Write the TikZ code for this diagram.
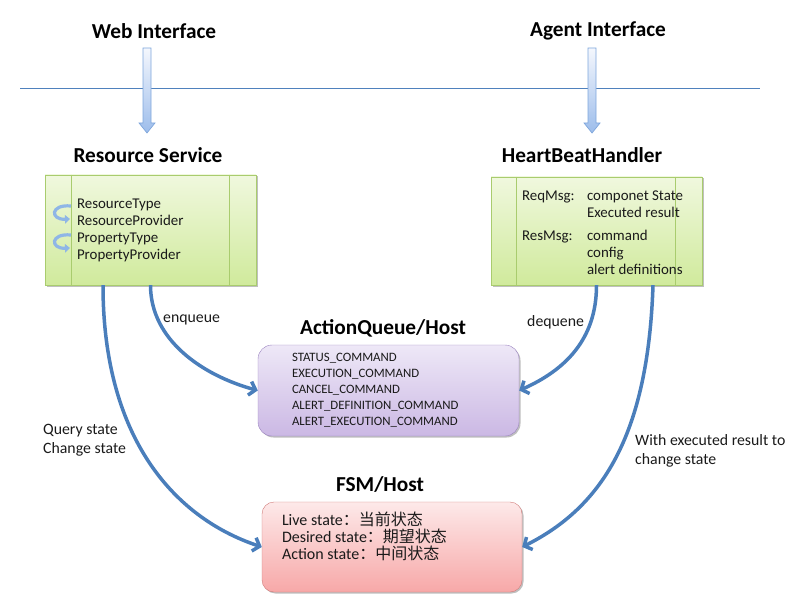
\documentclass[tikz,border=0pt]{standalone}
\usepackage{fontspec}
\setmainfont{Carlito}
\newfontfamily\cjk{Noto Sans CJK SC}
\usetikzlibrary{arrows.meta,positioning,shadows}
\definecolor{ambLine}{HTML}{4F81BD}
\definecolor{ambFlow}{HTML}{4A7EBB}
\definecolor{ambInk}{HTML}{1A1A1A}
\definecolor{ambGreenTop}{HTML}{F0F8DE}
\definecolor{ambGreenBot}{HTML}{D0EA9C}
\definecolor{ambGreenEdge}{HTML}{A9CC6E}
\definecolor{ambPurpleTop}{HTML}{EEE8F7}
\definecolor{ambPurpleBot}{HTML}{CBB8E4}
\definecolor{ambPurpleEdge}{HTML}{9A82BF}
\definecolor{ambRedTop}{HTML}{FDE9E9}
\definecolor{ambRedBot}{HTML}{F7A8A8}
\definecolor{ambRedEdge}{HTML}{D07A78}
\definecolor{ambArrowTop}{HTML}{F4F7FD}
\definecolor{ambArrowBot}{HTML}{9DBDEB}
\definecolor{ambArrowEdge}{HTML}{7EA6DC}
\definecolor{ambCurl}{HTML}{8FB6E6}
\tikzset{
  boxshadow/.style={drop shadow={shadow xshift=1.5pt,shadow yshift=-1.5pt,opacity=0.25,fill=black}},
  svcbox/.style={rectangle,draw=ambGreenEdge,top color=ambGreenTop,bottom color=ambGreenBot,
    minimum width=211pt,minimum height=110pt,inner sep=0pt,boxshadow},
  svcdiv/.style={draw=ambGreenEdge,line width=0.8pt},
  queuebox/.style={rectangle,draw=ambPurpleEdge,top color=ambPurpleTop,bottom color=ambPurpleBot,
    rounded corners=14pt,minimum height=91pt,text width=193pt,inner xsep=34pt,align=left,
    font=\fontsize{12.8}{16}\selectfont,text=ambInk,boxshadow},
  statebox/.style={rectangle,draw=ambRedEdge,top color=ambRedTop,bottom color=ambRedBot,
    rounded corners=12pt,minimum width=260pt,minimum height=90pt,boxshadow},
  boxtext/.style={font=\fontsize{14.9}{17}\selectfont,text=ambInk,inner sep=0pt,align=left},
  boxtitle/.style={font=\fontsize{21.3}{25}\selectfont\bfseries,text=black,inner sep=0pt},
  edgelabel/.style={font=\fontsize{15.8}{18.5}\selectfont,text=ambInk,inner sep=0pt,align=left,anchor=west},
  bigarrow/.style={draw=ambArrowEdge,line width=0.7pt,top color=ambArrowTop,bottom color=ambArrowBot},
  flowarrow/.style={draw=ambFlow,line width=3.5pt,-{Straight Barb[length=6pt,width=14pt]}},
  curlarrow/.style={draw=ambCurl,line width=3.2pt,-{Triangle[length=5pt,width=8.5pt]}}
}
\begin{document}
\begin{tikzpicture}[x=1pt,y=-1pt]
  \useasboundingbox (0,0) rectangle (810,612);
  % interfaces
  \node[boxtitle] (web) at (154,31) {Web Interface};
  \node[boxtitle] (agent) at (598,31) {Agent Interface};
  \draw[ambLine,line width=0.9pt] (20,88) -- (760,88);
  \coordinate (webarr) at (147,48);
  \coordinate (agentarr) at (592,48);
  \foreach \tail in {webarr,agentarr}
    \path[bigarrow] (\tail) ++(-4,0) -- ++(8,0) -- ++(0,75) -- ++(4,0) -- ++(-8,10)
      -- ++(-8,-10) -- ++(4,0) -- cycle;

  % services
  \node[boxtitle] (rstitle) at (148,155) {Resource Service};
  \node[svcbox,boxtext,text width=147pt,inner xsep=32pt] (rs) at (150.5,230)
    {ResourceType\\ResourceProvider\\PropertyType\\PropertyProvider};
  \draw[svcdiv] ([xshift=27pt]rs.north west) -- ([xshift=27pt]rs.south west);
  \draw[svcdiv] ([xshift=-27pt]rs.north east) -- ([xshift=-27pt]rs.south east);
  \draw[curlarrow] (71,206) .. controls (50,204) and (50,220) .. (70,219);
  \draw[curlarrow] (71,235) .. controls (50,233) and (50,249) .. (70,248);

  \node[boxtitle] (hbtitle) at (582,155) {HeartBeatHandler};
  \node[svcbox,minimum height=108pt] (hb) at (596.5,231) {};
  \draw[svcdiv] ([xshift=26pt]hb.north west) -- ([xshift=26pt]hb.south west);
  \draw[svcdiv] ([xshift=-27pt]hb.north east) -- ([xshift=-27pt]hb.south east);
  \node[boxtext,anchor=west] (hbtext) at ([xshift=31pt,yshift=-3.5pt]hb.west)
    {\begin{tabular}{@{}p{65pt}@{}l@{}}
      ReqMsg: & componet State\\
              & Executed result\\[6pt]
      ResMsg: & command\\
              & config\\
              & alert definitions
    \end{tabular}};

  % queue and state machine
  \node[boxtitle] (aqtitle) at (383,328) {ActionQueue/Host};
  \node[queuebox] (aq) at (388.5,390.5)
    {STATUS\_COMMAND\\EXECUTION\_COMMAND\\CANCEL\_COMMAND\\ALERT\_DEFINITION\_COMMAND\\ALERT\_EXECUTION\_COMMAND};

  \node[boxtitle] (fsmtitle) at (380,485) {FSM/Host};
  \node[statebox] (fsm) at (392,547) {};
  \node[boxtext,font=\fontsize{16}{17}\selectfont,anchor=north west] (fsmtext)
    at ([xshift=20pt,yshift=-10pt]fsm.north west)
    {Live state\cjk{：}\cjk{当前状态}\\Desired state\cjk{：}\cjk{期望状态}\\Action state\cjk{：}\cjk{中间状态}};

  % flows
  \draw[flowarrow] (rs.south) .. controls +(0,55) and +(-55,-15) .. (aq.west);
  \draw[flowarrow] ([xshift=-47.5pt]rs.south) .. controls +(0,150) and +(-90,-30) .. (fsm.west);
  \draw[flowarrow] (hb.south) .. controls +(0,55) and +(45,-20) .. (aq.east);
  \draw[flowarrow] ([xshift=56.5pt]hb.south) .. controls +(-5,150) and +(80,-40) .. (fsm.east);
  \node[edgelabel] (enq) at (163,320) {enqueue};
  \node[edgelabel] (deq) at (527,322) {dequene};
  \node[edgelabel] (query) at (43,440) {Query state\\Change state};
  \node[edgelabel] (exec) at (635,451) {With executed result to\\change state};
\end{tikzpicture}
\end{document}
